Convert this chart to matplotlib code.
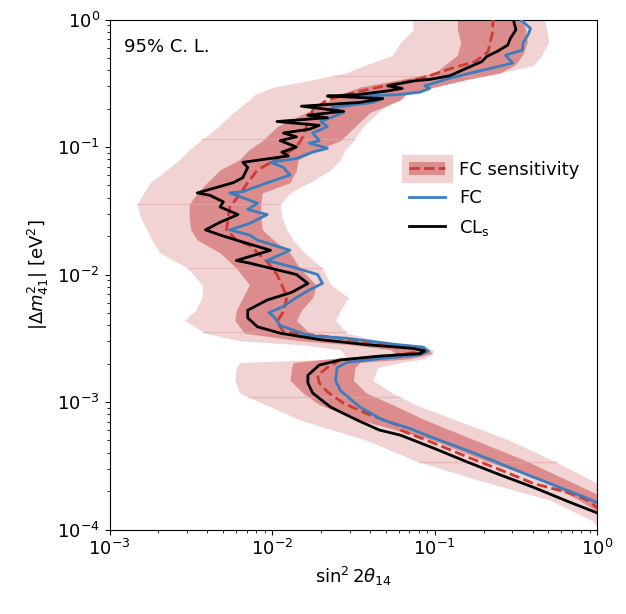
import numpy as np
import matplotlib
matplotlib.use("Agg")
import matplotlib.pyplot as plt
from matplotlib.patches import Patch
from matplotlib.lines import Line2D
from matplotlib.legend_handler import HandlerTuple

plt.rcParams['font.size'] = 13

# all values, stored as log10 (sin^2 2theta, dm2)

# FC sensitivity bands: common dm2 grid and the band edges in sin^2 2theta
band_logdm2 = [0.02, -0.08, -0.18, -0.28, -0.36, -0.42, -0.47, -0.53, -0.59, -0.63,
               -0.73, -0.84, -0.95, -1.02, -1.10, -1.18, -1.28, -1.36, -1.45, -1.55,
               -1.65, -1.73, -1.83, -1.95, -2.08, -2.18, -2.28, -2.36, -2.46, -2.52,
               -2.55, -2.59, -2.62, -2.66, -2.69, -2.73, -2.83, -2.93, -3.02, -3.14,
               -3.30, -3.46, -3.61, -3.77, -3.93, -4.05]
band2_lo = [-1.14, -1.13, -1.21, -1.26, -1.43, -1.55, -1.74, -1.99, -2.11, -2.14,
            -2.24, -2.33, -2.44, -2.51, -2.57, -2.65, -2.75, -2.79, -2.83, -2.81,
            -2.77, -2.74, -2.69, -2.52, -2.43, -2.43, -2.47, -2.54, -2.41, -2.20,
            -1.83, -1.58, -1.56, -1.55, -2.20, -2.22, -2.23, -2.20, -2.04, -1.83,
            -1.42, -1.12, -0.74, -0.29, -0.03, 0.06]
band2_hi = [-0.33, -0.31, -0.30, -0.34, -0.39, -0.60, -0.87, -1.07, -1.18, -1.23,
            -1.35, -1.44, -1.50, -1.55, -1.58, -1.64, -1.77, -1.89, -1.95, -1.94,
            -1.91, -1.87, -1.80, -1.69, -1.64, -1.53, -1.58, -1.61, -1.54, -1.34,
            -1.12, -1.01, -1.01, -1.06, -1.21, -1.35, -1.38, -1.26, -1.12, -0.87,
            -0.54, -0.27, -0.04, 0.20, 0.45, 0.60]
band1_lo = [-0.86, -0.86, -0.84, -0.86, -0.94, -1.00, -1.21, -1.46, -1.58, -1.64,
            -1.79, -1.97, -2.06, -2.14, -2.20, -2.32, -2.40, -2.46, -2.51, -2.51,
            -2.50, -2.46, -2.32, -2.22, -2.14, -2.18, -2.22, -2.23, -2.17, -1.83,
            -1.52, -1.27, -1.24, -1.64, -1.87, -1.88, -1.89, -1.81, -1.71, -1.46,
            -1.01, -0.69, -0.35, -0.11, 0.09, 0.18]
band1_hi = [-0.47, -0.44, -0.43, -0.46, -0.51, -0.60, -0.80, -1.00, -1.18, -1.21,
            -1.40, -1.49, -1.58, -1.72, -1.84, -1.85, -1.89, -2.06, -2.07, -2.07,
            -2.06, -1.99, -1.89, -1.83, -1.73, -1.75, -1.82, -1.85, -1.77, -1.46,
            -1.15, -1.03, -1.02, -1.15, -1.46, -1.49, -1.50, -1.42, -1.26, -1.06,
            -0.75, -0.44, -0.19, 0.08, 0.33, 0.47]

# FC sensitivity median (dashed)
med_logdm2 = [0.02, -0.11, -0.18, -0.25, -0.33, -0.38, -0.44, -0.47, -0.54, -0.58,
              -0.63, -0.71, -0.81, -0.92, -1.00, -1.08, -1.18, -1.28, -1.39, -1.47,
              -1.55, -1.65, -1.73, -1.77, -1.90, -2.00, -2.11, -2.18, -2.29, -2.37,
              -2.45, -2.49, -2.54, -2.58, -2.60, -2.65, -2.67, -2.73, -2.79, -2.85,
              -2.92, -3.01, -3.09, -3.18, -3.22, -3.32, -3.43, -3.53, -3.64, -3.71,
              -3.77, -3.83, -3.90]
med_logs2 = [-0.64, -0.645, -0.66, -0.67, -0.75, -0.89, -1.03, -1.11, -1.38, -1.52,
             -1.66, -1.75, -1.78, -1.81, -1.85, -1.95, -2.09, -2.15, -2.21, -2.26,
             -2.27, -2.28, -2.22, -2.14, -2.03, -1.97, -1.93, -1.91, -1.93, -1.97,
             -1.93, -1.64, -1.34, -1.09, -1.06, -1.34, -1.58, -1.66, -1.72, -1.71,
             -1.66, -1.56, -1.42, -1.23, -1.21, -1.01, -0.80, -0.60, -0.39, -0.18,
             -0.06, 0.00, 0.05]

# FC contour
fc_logdm2 = [0.02, -0.07, -0.12, -0.18, -0.24, -0.28, -0.34, -0.36, -0.42, -0.47,
             -0.52, -0.54, -0.57, -0.59, -0.60, -0.62, -0.65, -0.69, -0.73, -0.80,
             -0.84, -0.89, -0.95, -0.97, -1.01, -1.04, -1.09, -1.12, -1.16, -1.22,
             -1.28, -1.35, -1.36, -1.44, -1.49, -1.53, -1.60, -1.65, -1.69, -1.73,
             -1.81, -1.89, -1.95, -2.00, -2.07, -2.12, -2.18, -2.25, -2.30, -2.33,
             -2.40, -2.48, -2.50, -2.55, -2.57, -2.60, -2.63, -2.66, -2.69, -2.73,
             -2.83, -2.91, -3.04, -3.14, -3.20, -3.28, -3.38, -3.46, -3.57, -3.67,
             -3.74, -3.79, -3.86]
fc_logs2 = [-0.49, -0.41, -0.425, -0.455, -0.46, -0.565, -0.52, -0.58, -0.78, -0.935,
            -1.06, -1.03, -1.09, -1.23, -1.47, -1.32, -1.38, -1.63, -1.56, -1.70,
            -1.66, -1.75, -1.71, -1.77, -1.66, -1.75, -1.85, -2.01, -1.93, -1.89,
            -2.03, -2.18, -2.26, -2.09, -2.15, -2.03, -2.14, -2.26, -2.14, -2.09,
            -1.89, -2.03, -1.85, -1.72, -1.69, -1.77, -1.85, -1.93, -2.02, -1.99,
            -1.95, -1.77, -1.54, -1.23, -1.07, -1.04, -1.09, -1.34, -1.54, -1.60,
            -1.61, -1.58, -1.46, -1.32, -1.17, -1.01, -0.80, -0.64, -0.43, -0.23,
            -0.09, 0.00, 0.06]

# CLs contour
cls_logdm2 = [0.02, -0.08, -0.15, -0.20, -0.25, -0.29, -0.33, -0.38, -0.44, -0.47,
              -0.48, -0.52, -0.54, -0.56, -0.59, -0.60, -0.62, -0.65, -0.68, -0.72,
              -0.75, -0.77, -0.80, -0.83, -0.86, -0.89, -0.92, -0.95, -1.00, -1.04,
              -1.07, -1.12, -1.16, -1.24, -1.28, -1.36, -1.38, -1.43, -1.47, -1.53,
              -1.59, -1.65, -1.69, -1.73, -1.81, -1.89, -1.91, -2.00, -2.07, -2.14,
              -2.20, -2.28, -2.34, -2.41, -2.46, -2.51, -2.55, -2.58, -2.60, -2.62,
              -2.64, -2.67, -2.71, -2.79, -2.85, -2.93, -3.04, -3.14, -3.22, -3.26,
              -3.36, -3.47, -3.57, -3.67, -3.78, -3.87, -3.95]
cls_logs2 = [-0.52, -0.50, -0.535, -0.55, -0.615, -0.68, -0.71, -0.80, -0.905, -1.03,
             -1.12, -1.29, -1.20, -1.29, -1.48, -1.66, -1.32, -1.46, -1.82, -1.56,
             -1.78, -1.66, -1.97, -1.71, -1.77, -1.93, -1.85, -1.95, -1.85, -1.94,
             -1.90, -2.18, -2.15, -2.18, -2.24, -2.46, -2.38, -2.30, -2.32, -2.21,
             -2.32, -2.41, -2.32, -2.22, -2.01, -2.22, -2.14, -1.85, -1.78, -1.88,
             -2.03, -2.15, -2.15, -2.09, -1.95, -1.71, -1.42, -1.13, -1.06, -1.09,
             -1.34, -1.58, -1.71, -1.78, -1.78, -1.75, -1.64, -1.48, -1.34, -1.21,
             -1.01, -0.80, -0.60, -0.39, -0.18, 0.00, 0.06]

# faint seams where the band pieces meet
seam_logdm2 = [-0.44, -0.94, -1.45, -1.95, -2.45, -2.96, -3.47]

LIGHT = '#f1d3d3'
DARK = '#dc8c8c'
RED = '#cc3c32'
BLUE = '#3a7ebe'

p = lambda v: 10.0 ** np.asarray(v)

fig = plt.figure(figsize=(6.26, 6.14), dpi=100)
ax = fig.add_axes([0.175, 0.1376, 0.779, 0.8306])

ax.fill_betweenx(p(band_logdm2), p(band2_lo), p(band2_hi), color=LIGHT, lw=0, zorder=1)
ax.fill_betweenx(p(band_logdm2), p(band1_lo), p(band1_hi), color=DARK, lw=0, zorder=2)

# seam lines across the outer band
yb = np.array(band_logdm2)[::-1]
for s in seam_logdm2:
    lo = np.interp(s, yb, np.array(band2_lo)[::-1])
    hi = np.interp(s, yb, np.array(band2_hi)[::-1])
    ax.plot([10 ** lo, 10 ** hi], [10 ** s, 10 ** s], color='#e2a9a9', lw=1.0, alpha=0.6, zorder=2.5)

ax.plot(p(med_logs2), p(med_logdm2), color=RED, ls='--', lw=2, zorder=3)
fc_line, = ax.plot(p(fc_logs2), p(fc_logdm2), color=BLUE, lw=2, zorder=4)
cls_line, = ax.plot(p(cls_logs2), p(cls_logdm2), color='black', lw=2, zorder=5)

ax.set_xscale('log')
ax.set_yscale('log')
ax.set_xlim(1e-3, 1)
ax.set_ylim(1e-4, 1)
ax.set_xlabel(r'$\sin^2 2\theta_{14}$')
ax.set_ylabel(r'$|\Delta m^2_{41}|$ [eV$^2$]')

ax.text(0.03, 0.946, '95% C. L.', transform=ax.transAxes, va='center', ha='left')

# legend: outer band patch (padded with a thick edge), inner band, median dashes
light_h = Patch(facecolor=LIGHT, edgecolor=LIGHT, linewidth=11, joinstyle='miter')
dark_h = Patch(facecolor=DARK, edgecolor='none')
dash_h = Line2D([], [], color=RED, ls='--', lw=2)
ax.legend([(light_h, dark_h, dash_h), fc_line, cls_line],
          ['FC sensitivity', 'FC', r'CL$_{\rm s}$'],
          handler_map={tuple: HandlerTuple(ndivide=1)},
          frameon=False, loc='upper left', bbox_to_anchor=(0.58, 0.755),
          handlelength=2.0, labelspacing=0.58)

fig.savefig('out.png', dpi=100)
